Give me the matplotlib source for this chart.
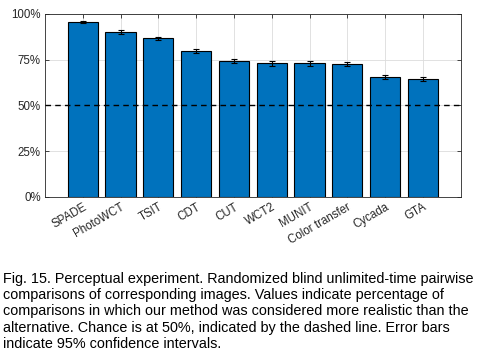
import matplotlib.pyplot as plt
import numpy as np

plt.rcParams['font.family'] = ['Liberation Sans', 'DejaVu Sans']

#%% data
methods = ['SPADE', 'PhotoWCT', 'TSIT', 'CDT', 'CUT', 'WCT2', 'MUNIT',
           'Color transfer', 'Cycada', 'GTA']
pref = [95.6, 90.1, 86.6, 79.6, 74.3, 72.9, 72.9, 72.5, 65.6, 64.4]
ci = [0.7, 0.9, 1.0, 1.2, 1.2, 1.2, 1.2, 1.2, 1.2, 1.2]
chance = 50

caption = ("Fig. 15. Perceptual experiment. Randomized blind unlimited-time pairwise\n"
           "comparisons of corresponding images. Values indicate percentage of\n"
           "comparisons in which our method was considered more realistic than the\n"
           "alternative. Chance is at 50%, indicated by the dashed line. Error bars\n"
           "indicate 95% confidence intervals.")

#%% plot
fig = plt.figure(figsize=(4.78, 3.64), dpi=100)
ax = fig.add_axes([0.094, 0.459, 0.870, 0.503])

x = np.arange(1, len(methods) + 1)
ax.bar(x, pref, width=0.8, color='#0072BD', edgecolor='black', linewidth=0.8, zorder=2)
ax.errorbar(x, pref, yerr=ci, fmt='none', ecolor='black', elinewidth=0.8,
            capsize=2.2, capthick=0.8, zorder=3)
ax.axhline(chance, color='black', linestyle=(0, (4, 3)), linewidth=1.0, zorder=4)

ax.set_xlim(0, len(methods) + 1)
ax.set_ylim(0, 100)
ax.set_yticks([0, 25, 50, 75, 100])
ax.set_yticklabels(['0%', '25%', '50%', '75%', '100%'])
ax.set_xticks(x)
ax.set_xticklabels(methods, rotation=30, ha='right', rotation_mode='anchor')
ax.tick_params(direction='in', length=3, width=0.6, top=True, right=True,
               labelsize=8.3, colors='#262626', pad=3)
ax.grid(True, color='#dcdcdc', linewidth=0.6, zorder=0)
ax.set_axisbelow(True)
for s in ax.spines.values():
    s.set_color('#262626')
    s.set_linewidth(0.6)

fig.text(0.006, 0.252, caption, fontsize=10.35, va='top', ha='left',
         linespacing=1.19, color='black')

fig.savefig('out.png', dpi=100)
